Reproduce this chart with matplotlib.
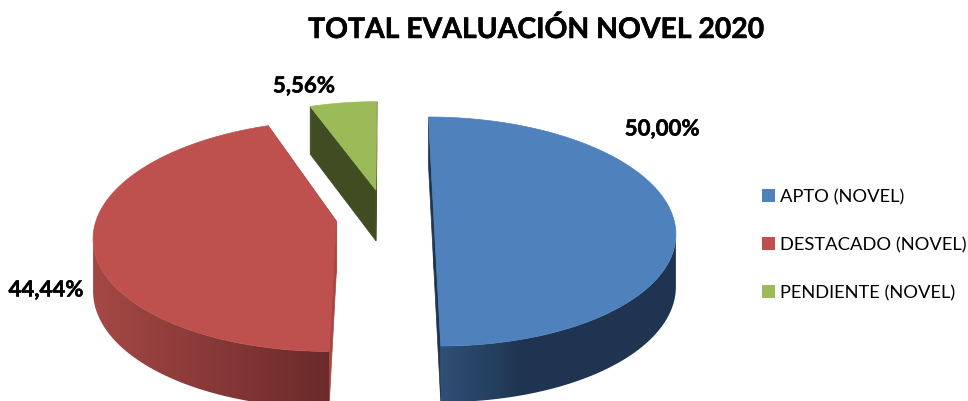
import numpy as np
import matplotlib
matplotlib.use('Agg')
import matplotlib.pyplot as plt
import matplotlib.patheffects as pe
from matplotlib.colors import to_rgb
from matplotlib.patches import Polygon, Rectangle

# Data
title = "TOTAL EVALUACIÓN NOVEL 2020"
categories = ["APTO (NOVEL)", "DESTACADO (NOVEL)", "PENDIENTE (NOVEL)"]
percent = [50.00, 44.44, 5.56]

# Slice styles
top_colors = ['#4F81BD', '#BE504D', '#9BBB59']
cut_colors = ['#1D3550', '#A94542', '#404D22']
wall_colors = [('#2F5075', '#1E3450'), ('#A34845', '#6B2A2A'), ('#404D22', '#404D22')]
wall_xrange = [(442, 525), (95, 330), (310, 378)]
explode = [0.2, 0.21, 0.25]
radius = [1.0, 1.0, 0.93]

# Projection of the pie, in pixels
cx, cy = 386, 217
D = 7.9
fx, fy = 1890, 890

plt.rcParams['font.family'] = ['Lato', 'DejaVu Sans']

fig = plt.figure(figsize=(9.68, 4.01), dpi=100)
ax = fig.add_axes([0, 0, 1, 1])
ax.axis('off')


def project(X, Y):
    d = D + Y
    return cx + fx * X / d, cy - fy * Y / d


def drop(Y):
    # wall height shrinks a little with distance
    return 20 + 250 / (D + Y)


angles = np.cumsum([0] + [p * 3.6 for p in percent])

# far slices first so the near ones paint over them
for i in [2, 1, 0]:
    a0, a1 = angles[i], angles[i + 1]
    mid = np.radians((a0 + a1) / 2)
    ox, oy = explode[i] * np.sin(mid), explode[i] * np.cos(mid)
    t = np.radians(np.linspace(a0, a1, int(a1 - a0) * 2 + 2))
    X, Y = ox + radius[i] * np.sin(t), oy + radius[i] * np.cos(t)
    sx, sy = project(X, Y)
    dz = drop(Y)
    px, py = project(ox, oy)
    dz0 = drop(oy)

    # cut faces
    ax.fill([px, sx[0], sx[0], px], [py, sy[0], sy[0] + dz[0], py + dz0],
            color=cut_colors[i], lw=0.5, zorder=i * 3 + 1)
    ax.fill([px, sx[-1], sx[-1], px], [py, sy[-1], sy[-1] + dz[-1], py + dz0],
            color=cut_colors[i], lw=0.5, zorder=i * 3 + 1)

    # outer wall, only the part facing us, a gradient clipped to its outline
    keep = np.gradient(sx) < 0
    if keep.sum() > 1:
        wx, wy, wz = sx[keep], sy[keep], dz[keep]
        poly = Polygon(np.c_[np.r_[wx, wx[::-1]], np.r_[wy, (wy + wz)[::-1]]],
                       closed=True, transform=ax.transData, fc='none', ec='none')
        ax.add_patch(poly)
        x0, x1 = wall_xrange[i]
        xs = np.arange(0, 968)
        f = np.clip((xs - x0) / (x1 - x0), 0, 1)[None, :, None]
        c0, c1 = np.array(to_rgb(wall_colors[i][0])), np.array(to_rgb(wall_colors[i][1]))
        grad = c0 * (1 - f) + c1 * f
        im = ax.imshow(grad, extent=(0, 968, 401, 0), aspect='auto', zorder=i * 3 + 2)
        im.set_clip_path(poly)

    # top face
    ax.fill(np.r_[px, sx], np.r_[py, sy], color=top_colors[i], lw=0.5, zorder=i * 3 + 3)

ax.set_xlim(0, 968)
ax.set_ylim(401, 0)

bold = [pe.withStroke(linewidth=0.35, foreground='black')]

ax.text(536.5, 29.5, title, ha='center', va='center', fontsize=20.4, fontweight='bold',
        color='black', path_effects=bold)

label_pos = [(662, 129), (46, 290), (304, 86)]
for p, (lx, ly) in zip(percent, label_pos):
    ax.text(lx, ly, f"{p:.2f}%".replace('.', ','), ha='center', va='center',
            fontsize=16, fontweight='bold', color='black', zorder=20, path_effects=bold)

legend_y = [195.5, 243.5, 291.5]
for name, color, ly in zip(categories, top_colors, legend_y):
    ax.add_patch(Rectangle((762, ly - 6.5), 13, 13, color=color, lw=0))
    ax.text(780, ly + 1.5, name, ha='left', va='center', fontsize=13.25, color='black')

fig.savefig('out.png', dpi=100)
